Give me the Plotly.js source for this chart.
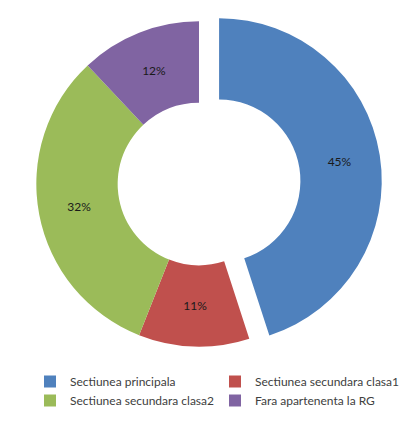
<!DOCTYPE html>
<html>
<head>
<meta charset="utf-8">
<script src="https://cdn.plot.ly/plotly-3.0.1.min.js"></script>
<style>html,body{margin:0;padding:0;background:#fff;}#chart{width:410px;height:423px;}</style>
</head>
<body>
<div id="chart"></div>
<script>
const categories = ["Sectiunea principala", "Sectiunea secundara clasa1", "Sectiunea secundara clasa2", "Fara apartenenta la RG"];
const values = [45, 11, 32, 12];
const colors = ["#4F81BD", "#C0504D", "#9BBB59", "#8064A2"];
const pulls = [0.125, 0, 0, 0];

const trace = {
  type: "pie",
  labels: categories,
  values: values,
  hole: 0.5,
  sort: false,
  direction: "clockwise",
  rotation: 0,
  pull: pulls,
  marker: {colors: colors, line: {width: 0}},
  textinfo: "percent",
  texttemplate: "%{percent:.0%}",
  textposition: "inside",
  insidetextorientation: "horizontal",
  textfont: {family: "Lato, 'Open Sans', sans-serif", size: 12, color: "#1a1a1a"},
  domain: {x: [13/410, 385/410], y: [0, 1]},
  hoverinfo: "none"
};

const layout = {
  width: 410, height: 423,
  margin: {l: 0, r: 0, t: 1, b: 49},
  paper_bgcolor: "#ffffff",
  showlegend: true,
  legend: {
    orientation: "h",
    xref: "container", yref: "container",
    x: 30/410, xanchor: "left",
    y: 1 - 367/423, yanchor: "top",
    entrywidth: 140, entrywidthmode: "pixels",
    font: {family: "Lato, 'Open Sans', sans-serif", size: 12, color: "#404040"},
    traceorder: "normal"
  }
};

Plotly.newPlot("chart", [trace], layout, {displayModeBar: false, staticPlot: true});
</script>
</body>
</html>
